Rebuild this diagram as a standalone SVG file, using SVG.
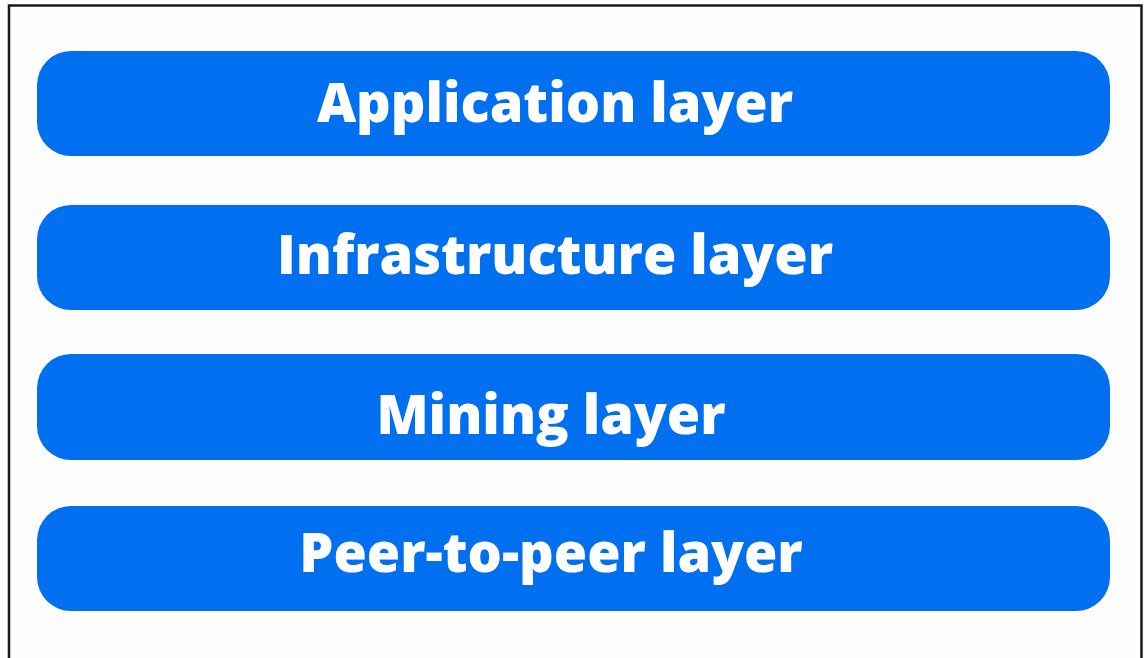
<svg xmlns="http://www.w3.org/2000/svg" width="1144" height="658" viewBox="0 0 1144 658">
<style>
.bg{fill:#fdfdfe}
.frame{fill:none;stroke:#1a1a1a;stroke-width:2.5}
.layer rect{fill:#0070f0}
.layer text{fill:#ffffff;font-family:"Open Sans","Noto Sans","Liberation Sans",sans-serif;font-weight:800;font-size:54px;text-anchor:middle}
</style>
<rect class="bg" x="0" y="0" width="1144" height="658"/>
<path class="frame" d="M9,660 V5.5 H1141.5 V660"/>
<g id="application" class="layer"><rect x="37" y="51" width="1073" height="105" rx="34"/><text x="555" y="122">Application layer</text></g>
<g id="infrastructure" class="layer"><rect x="37" y="205" width="1073" height="105" rx="34"/><text x="555" y="274">Infrastructure layer</text></g>
<g id="mining" class="layer"><rect x="37" y="354" width="1073" height="106" rx="34"/><text x="551" y="434">Mining layer</text></g>
<g id="p2p" class="layer"><rect x="37" y="506" width="1073" height="105" rx="34"/><text x="551" y="572">Peer-to-peer layer</text></g>
<g id="connectors"></g>
</svg>
